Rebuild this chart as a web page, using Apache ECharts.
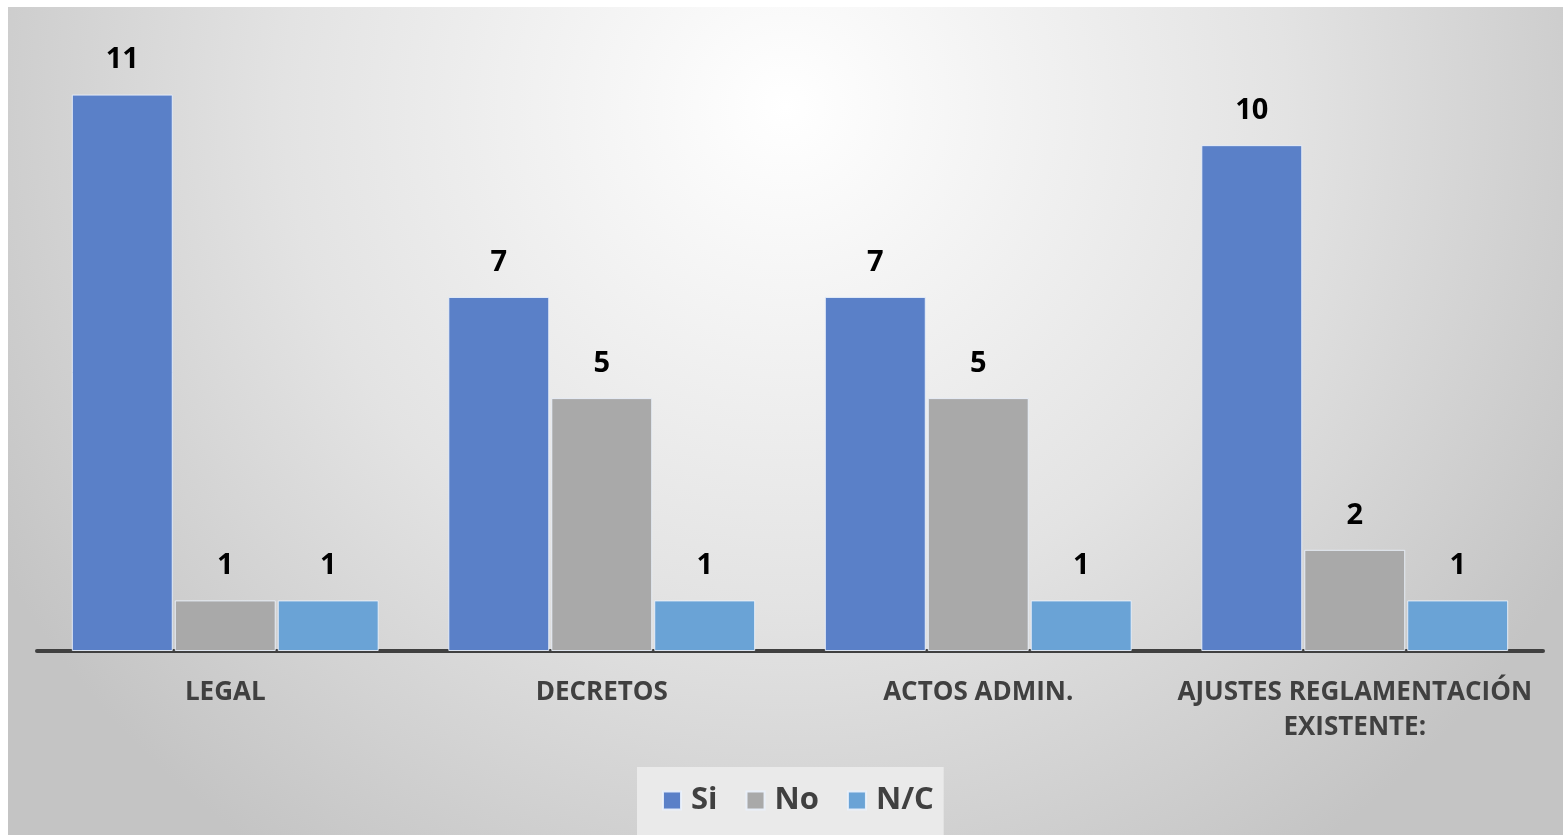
<!DOCTYPE html>
<html>
<head>
<meta charset="utf-8">
<script src="https://cdn.jsdelivr.net/npm/echarts@6/dist/echarts.min.js"></script>
<style>
html,body{margin:0;padding:0;background:#ffffff;}
#chart{width:1563px;height:835px;}
</style>
</head>
<body>
<div id="chart"></div>
<script>
const categories = ['LEGAL', 'DECRETOS', 'ACTOS ADMIN.', 'AJUSTES REGLAMENTACIÓN\nEXISTENTE:'];
const seriesNames = ['Si', 'No', 'N/C'];
const siValues = [11, 7, 7, 10];
const noValues = [1, 5, 5, 2];
const ncValues = [1, 1, 1, 1];

const colors = ['#5A80C8', '#A9A9A9', '#6AA3D6'];
const chart = echarts.init(document.getElementById('chart'));

const labelStyle = {
  show: true,
  position: 'top',
  distance: 20,
  fontFamily: 'Open Sans',
  fontWeight: 'bold',
  fontSize: 29,
  color: '#000000'
};

function makeSeries(name, data, i) {
  return {
    name: name,
    type: 'bar',
    data: data,
    barGap: '2%',
    barCategoryGap: '18.5%',
    itemStyle: { color: colors[i], borderColor: 'rgba(235,242,252,0.9)', borderWidth: 1 },
    label: labelStyle,
    emphasis: { disabled: true }
  };
}

chart.setOption({
  animation: false,
  graphic: [{
    type: 'rect',
    z: -10,
    silent: true,
    shape: { x: 8, y: 7, width: 1555, height: 828 },
    style: {
      fill: {
        type: 'radial', x: 0.5, y: 0.12, r: 1.1,
        colorStops: [
          { offset: 0, color: '#FFFFFF' },
          { offset: 0.55, color: '#E3E3E3' },
          { offset: 1, color: '#C4C4C4' }
        ]
      }
    }
  }],
  legend: {
    data: seriesNames,
    left: 637,
    top: 767,
    padding: [18, 10, 20, 25],
    backgroundColor: 'rgba(236,236,236,0.9)',
    itemWidth: 18,
    itemHeight: 18,
    itemGap: 28,
    icon: 'rect',
    textStyle: { fontFamily: 'Open Sans', fontWeight: 'bold', fontSize: 31, color: '#404040', padding: [0, 0, 0, 5] }
  },
  grid: { left: 37, right: 20, top: 44, bottom: 184, containLabel: false },
  xAxis: {
    type: 'category',
    data: categories,
    axisTick: { show: false },
    axisLine: { show: true, lineStyle: { color: '#404040', width: 4 } },
    axisLabel: {
      margin: 24,
      fontFamily: 'Open Sans',
      fontWeight: 'bold',
      fontSize: 26,
      lineHeight: 35,
      color: '#404040',
      interval: 0
    }
  },
  yAxis: {
    type: 'value',
    min: 0,
    max: 12,
    interval: 1,
    show: false,
    splitLine: { show: false }
  },
  series: [
    makeSeries(seriesNames[0], siValues, 0),
    makeSeries(seriesNames[1], noValues, 1),
    makeSeries(seriesNames[2], ncValues, 2)
  ]
});
</script>
</body>
</html>
